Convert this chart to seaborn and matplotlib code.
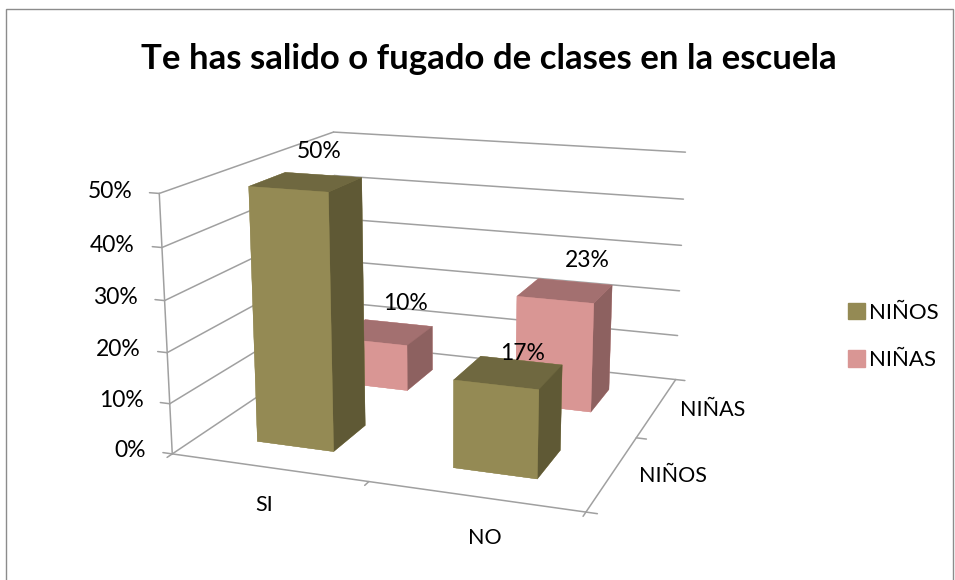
import matplotlib
matplotlib.use("Agg")
import matplotlib.pyplot as plt
from matplotlib.patches import Patch, Rectangle
import seaborn as sns

categories = ["SI", "NO"]
series_names = ["NIÑOS", "NIÑAS"]
ninos = [50, 17]
ninas = [10, 23]
yticks = [0, 10, 20, 30, 40, 50]
# altura extra de cada etiqueta sobre su barra
etiqueta_dz = [[5.5, 3.2], [6.4, 6.4]]
etiqueta_dx = [0.55, 0.6]

sns.set_theme(style="white")
plt.rcParams["font.family"] = ["Lato", "DejaVu Sans"]
plt.rcParams["text.color"] = "black"
colores = sns.color_palette(["#948A54", "#D99694"])
# caras: abajo, arriba, frente, atras, izq, der
caras = [
    ["#948A54", "#6F6840", "#948A54", "#948A54", "#948A54", "#5F5935"],
    ["#D99694", "#A37070", "#D99694", "#D99694", "#D99694", "#8D6160"],
]

fig = plt.figure(figsize=(9.55, 5.8), dpi=100)
fig.patch.set_facecolor("white")
ax = fig.add_axes([0.02, 0.003, 0.87, 0.95], projection="3d")
ax.computed_zorder = False
ax.set_proj_type("persp", focal_length=0.5)
ax.view_init(elev=15, azim=-70)
ax.set_box_aspect((2.09, 2.0, 1.30), zoom=1.08)
ax.set_axis_off()
ax.set_xlim(0, 2)
ax.set_ylim(0, 2)
ax.set_zlim(0, 50)
ax.set_xticks([])
ax.set_yticks([])
ax.set_zticks([])

line = dict(color="#a0a0a0", lw=1.1, zorder=1, clip_on=False)
for t in yticks:
    ax.plot([-0.05, 0], [0, 0], [t, t], **line)
    ax.plot([0, 0], [0, 2], [t, t], **line)
    ax.plot([0, 2], [2, 2], [t, t], **line)
ax.plot([0, 0], [0, 0], [0, 50], **line)
ax.plot([0, 2, 2], [0, 0, 2], [0, 0, 0], **line)
for i in range(3):
    ax.plot([i, i], [-0.05, 0], [0, 0], **line)
    ax.plot([2, 2.05], [i, i], [0, 0], **line)

for d, vals in reversed(list(enumerate([ninos, ninas]))):
    for i, v in enumerate(vals):
        ax.bar3d(i + 0.3, d + 0.3, 0, 0.4, 0.4, v, color=caras[d], shade=False,
                 edgecolor=caras[d], linewidth=0.2, zorder=3 - d)
        ax.text(i + etiqueta_dx[d], d + 0.55, v + etiqueta_dz[d][i], f"{v}%", fontsize=16.5,
                ha="center", va="center", zorder=6)
for t in yticks:
    ax.text(-0.14, 0, t, f"{t}%", fontsize=16.5, ha="right", va="center", zorder=6)
for i, c in enumerate(categories):
    ax.text(i + 0.68, -0.42, 0, c, fontsize=15.5, ha="center", va="center", zorder=6)
for d, c in enumerate(series_names):
    ax.text(2.12, d + 0.5, 0, c, fontsize=15.5, ha="left", va="center", zorder=6)

fig.text(0.512, 0.898, "Te has salido o fugado de clases en la escuela", fontsize=25,
         fontweight="bold", ha="center", va="center")
handles = [Patch(color=c, label=n) for c, n in zip(colores, series_names)]
fig.legend(handles=handles, loc="center left", bbox_to_anchor=(0.888, 0.42), frameon=False,
           fontsize=16, handlelength=0.75, handleheight=0.75, handletextpad=0.2, labelspacing=1.25,
           borderpad=0, borderaxespad=0)
fig.add_artist(Rectangle((0.006, -0.01), 0.992, 0.995, transform=fig.transFigure, fill=False,
                         ec="#8c8c8c", lw=1))
fig.savefig("out.png", dpi=100)
